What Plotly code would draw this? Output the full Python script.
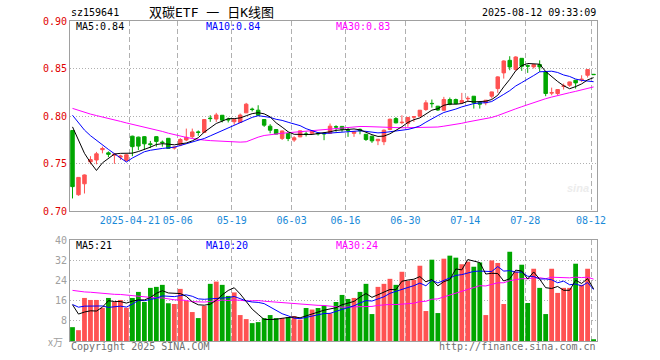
import plotly.graph_objects as go
import pandas as pd

# ---------------- data ----------------
holidays = ["2025-05-01", "2025-05-02", "2025-05-05", "2025-06-02"]
dates = [d.strftime("%Y-%m-%d") for d in pd.bdate_range("2025-04-07", "2025-08-12")
         if d.strftime("%Y-%m-%d") not in holidays]

open_ = [0.785, 0.7175, 0.729, 0.752, 0.754, 0.7648, 0.7615, 0.759, 0.757, 0.7535,
         0.779, 0.778, 0.7785, 0.771, 0.7785, 0.7728, 0.7768, 0.7665, 0.7697, 0.775,
         0.7785, 0.7835, 0.783, 0.798, 0.797, 0.801, 0.7968, 0.7942, 0.7935, 0.8035,
         0.8075, 0.8063, 0.7965, 0.7895, 0.786, 0.7767, 0.7818, 0.775, 0.7783, 0.7813,
         0.782, 0.7822, 0.782, 0.782, 0.789, 0.7893, 0.7856, 0.782, 0.7862, 0.781,
         0.779, 0.7742, 0.7732, 0.786, 0.7975, 0.7932, 0.7925, 0.799, 0.800, 0.807,
         0.8135, 0.8105, 0.8063, 0.8175, 0.8175, 0.8143, 0.8183, 0.821, 0.8143, 0.814,
         0.821, 0.829, 0.8455, 0.8587, 0.849, 0.8608, 0.853, 0.8518, 0.8542, 0.8465,
         0.8243, 0.8238, 0.8313, 0.8325, 0.8378, 0.8382, 0.843, 0.844]
high = [0.7855, 0.736, 0.7388, 0.758, 0.7625, 0.768, 0.763, 0.7605, 0.7595, 0.760,
        0.7795, 0.7785, 0.779, 0.774, 0.779, 0.7745, 0.777, 0.768, 0.777, 0.787,
        0.787, 0.785, 0.797, 0.801, 0.8035, 0.8012, 0.7985, 0.7968, 0.8028, 0.814,
        0.809, 0.8115, 0.797, 0.7916, 0.786, 0.7848, 0.782, 0.779, 0.785, 0.7838,
        0.7848, 0.7832, 0.7832, 0.7923, 0.7905, 0.7895, 0.7878, 0.7838, 0.787, 0.7812,
        0.7795, 0.776, 0.786, 0.7975, 0.799, 0.801, 0.7993, 0.800, 0.8065, 0.8168,
        0.8175, 0.8108, 0.8203, 0.8196, 0.8185, 0.8245, 0.821, 0.8212, 0.8145, 0.817,
        0.8258, 0.842, 0.8587, 0.863, 0.863, 0.861, 0.8545, 0.8545, 0.8587, 0.847,
        0.830, 0.8282, 0.8343, 0.8363, 0.838, 0.843, 0.8492, 0.8442]
low = [0.7136, 0.7164, 0.7188, 0.7495, 0.7495, 0.761, 0.757, 0.750, 0.754, 0.7525,
       0.758, 0.7643, 0.7645, 0.7665, 0.768, 0.768, 0.766, 0.765, 0.7685, 0.7738,
       0.7768, 0.7795, 0.7825, 0.7941, 0.794, 0.7935, 0.7934, 0.791, 0.793, 0.8033,
       0.805, 0.800, 0.7888, 0.782, 0.781, 0.775, 0.7738, 0.773, 0.778, 0.7787,
       0.7818, 0.7797, 0.7748, 0.7815, 0.7836, 0.7836, 0.7783, 0.7783, 0.781, 0.774,
       0.772, 0.7696, 0.7696, 0.7853, 0.7925, 0.7916, 0.7888, 0.794, 0.7998, 0.8056,
       0.809, 0.8056, 0.8056, 0.8115, 0.8126, 0.8133, 0.815, 0.808, 0.808, 0.8115,
       0.8185, 0.8245, 0.8395, 0.8483, 0.8476, 0.8476, 0.8455, 0.850, 0.8465, 0.821,
       0.822, 0.822, 0.828, 0.8308, 0.829, 0.836, 0.8406, 0.8437]
close = [0.726, 0.7357, 0.7383, 0.7545, 0.7605, 0.766, 0.760, 0.7602, 0.7582, 0.7595,
         0.768, 0.7686, 0.771, 0.7702, 0.7735, 0.7722, 0.7662, 0.7675, 0.7755, 0.7778,
         0.7835, 0.783, 0.7965, 0.7975, 0.8013, 0.7958, 0.7962, 0.7965, 0.8012, 0.8126,
         0.807, 0.801, 0.7906, 0.7853, 0.7812, 0.7845, 0.7766, 0.7773, 0.7846, 0.781,
         0.7845, 0.7816, 0.7815, 0.7895, 0.7886, 0.7862, 0.7852, 0.7836, 0.7847, 0.7755,
         0.7741, 0.7758, 0.7853, 0.7968, 0.793, 0.7936, 0.7986, 0.7995, 0.8063, 0.814,
         0.8132, 0.8065, 0.8175, 0.8126, 0.8133, 0.8165, 0.8187, 0.814, 0.8126, 0.8168,
         0.8255, 0.8413, 0.858, 0.8517, 0.8622, 0.8524, 0.8526, 0.8542, 0.8517, 0.8238,
         0.8247, 0.828, 0.8318, 0.836, 0.835, 0.8388, 0.849, 0.8437]
volume = [5.5, 4.3, 17.1, 16.3, 16.3, 13.2, 17.1, 15.5, 16.3, 13.2,
          17.1, 19.5, 15.5, 21.1, 21.5, 22.3, 15.0, 14.7, 20.7, 15.9,
          11.5, 9.1, 13.9, 22.7, 23.6, 22.3, 17.9, 19.3, 10.3, 8.7,
          7.1, 7.5, 9.1, 10.3, 9.1, 9.1, 9.5, 9.9, 8.5, 13.1,
          12.5, 13.1, 14.0, 11.0, 15.5, 18.3, 16.7, 17.1, 19.5, 22.7,
          10.7, 21.5, 22.7, 24.7, 22.3, 27.5, 23.9, 24.3, 29.9, 11.9,
          32.3, 11.1, 32.7, 33.9, 33.1, 30.5, 31.5, 29.5, 31.2, 10.3,
          32.0, 31.0, 14.7, 35.5, 27.5, 30.3, 15.1, 28.7, 21.1, 10.7,
          28.7, 19.1, 21.1, 21.1, 30.7, 22.3, 28.7, 0.7]

# sessions before the visible window (only feed the moving averages)
pre_close = [0.800, 0.803, 0.805, 0.807, 0.806, 0.808, 0.806, 0.807, 0.809, 0.809,
             0.812, 0.815, 0.817, 0.819, 0.820, 0.821, 0.819, 0.818, 0.817, 0.818,
             0.816, 0.814, 0.813, 0.812, 0.811, 0.808, 0.805, 0.803, 0.802]
pre_volume = [18, 22, 20, 24, 19, 21, 23, 18, 20, 21.4,
              26, 30, 28, 24, 22, 27, 25, 23, 21, 26,
              15, 13, 16, 14, 15, 22.8, 13.1, 13.8, 16.8]

tick_dates = ["2025-04-21", "2025-05-06", "2025-05-19", "2025-06-03", "2025-06-16",
              "2025-06-30", "2025-07-14", "2025-07-28", "2025-08-12"]
tick_text = ["2025-04-21", "05-06", "05-19", "06-03", "06-16", "06-30", "07-14", "07-28", "08-12"]
price_ticks = [0.70, 0.75, 0.80, 0.85, 0.90]
vol_ticks = [8, 16, 24, 32, 40]

price_legend = ["MA5:0.84", "MA10:0.84", "MA30:0.83"]
vol_legend = ["MA5:21", "MA10:20", "MA30:24"]
stock_code = "sz159641"
title_text = "双碳ETF 一 日K线图"
timestamp = "2025-08-12 09:33:09"

# ---------------- derived ----------------
n_pre = len(pre_close)
cs = pd.Series(pre_close + close)
vs = pd.Series(pre_volume + volume)
ma_price = {w: cs.rolling(w, min_periods=1).mean().tolist()[n_pre:] for w in (5, 10, 30)}
ma_vol = {w: vs.rolling(w, min_periods=1).mean().tolist()[n_pre:] for w in (5, 10, 30)}

idx = list(range(len(dates)))
RED = "#ff5252"
GREEN = "#00a600"
ma_colors = {5: "#000000", 10: "#0000ff", 30: "#ff00ff"}
vol_colors = [RED if c >= o else GREEN for o, c in zip(open_, close)]

# ---------------- figure ----------------
fig = go.Figure()
fig.add_trace(go.Candlestick(
    x=idx, open=open_, high=high, low=low, close=close,
    increasing=dict(line=dict(color=RED, width=1), fillcolor=RED),
    decreasing=dict(line=dict(color=GREEN, width=1), fillcolor=GREEN),
    whiskerwidth=0, hoverinfo="skip", xaxis="x", yaxis="y", showlegend=False))
for w in (30, 10, 5):
    fig.add_trace(go.Scatter(x=idx, y=ma_price[w], mode="lines",
                             line=dict(color=ma_colors[w], width=1),
                             hoverinfo="skip", xaxis="x", yaxis="y", showlegend=False))

fig.add_trace(go.Bar(x=idx, y=volume, marker=dict(color=vol_colors, line=dict(width=0)),
                     width=0.8, hoverinfo="skip", xaxis="x2", yaxis="y2", showlegend=False))
for w in (30, 10, 5):
    fig.add_trace(go.Scatter(x=idx, y=ma_vol[w], mode="lines",
                             line=dict(color=ma_colors[w], width=1),
                             hoverinfo="skip", xaxis="x2", yaxis="y2", showlegend=False))

L, R, T, B = 70, 63, 21, 19
W, H = 660, 360
PW, PH = W - L - R, H - T - B


def pos(px, py):
    return (px - L) / PW, (H - B - py) / PH


tickvals = [dates.index(d) - 0.42 for d in tick_dates]
xr = [-0.417, len(dates) - 1 + 0.57]
grid_x = dict(showgrid=True, gridcolor="#b0b0b0", griddash="5px,3px", gridwidth=1,
              zeroline=False, showline=True, mirror=True, linecolor="#a0a0a0", linewidth=1,
              tickvals=tickvals, ticks="", range=xr, rangeslider=dict(visible=False),
              fixedrange=True)
grid_y = dict(showgrid=True, gridcolor="#b0b0b0", griddash="1px,2px", gridwidth=1,
              zeroline=False, showline=True, mirror=True, linecolor="#a0a0a0", linewidth=1,
              ticks="", fixedrange=True)

mono = "DejaVu Sans Mono"
fig.update_layout(
    width=W, height=H, margin=dict(l=L, r=R, t=T, b=B),
    paper_bgcolor="white", plot_bgcolor="white", boxgap=0.17, bargap=0.2,
    font=dict(family=mono, size=10, color="#000"),
    xaxis=dict(**grid_x, anchor="y", domain=[0, 1], ticktext=tick_text,
               tickfont=dict(family=mono, size=10, color="#1a8ad8")),
    xaxis2=dict(**grid_x, anchor="y2", domain=[0, 1], matches="x", showticklabels=False),
    yaxis=dict(**grid_y, domain=[0.405, 1], range=[0.70, 0.90], tickvals=price_ticks,
               ticktext=[f"{v:.2f}" for v in price_ticks],
               tickfont=dict(family=mono, size=10, color="#e00000")),
    yaxis2=dict(**grid_y, domain=[0, 0.3147], range=[0, 40], tickvals=vol_ticks,
                ticktext=[str(v) for v in vol_ticks],
                tickfont=dict(family=mono, size=10, color="#a0a0a0")),
)

ann = []


def add_text(text, px, py, anchor="left", color="#000", size=10, family=mono):
    x, y = pos(px, py)
    ann.append(dict(text=text, x=x, y=y, xref="paper", yref="paper", xanchor=anchor,
                    yanchor="middle", showarrow=False,
                    font=dict(family=family, size=size, color=color)))


add_text(stock_code, 69, 12.5)
add_text(title_text, 211, 12.5, anchor="center", size=13,
         family="DejaVu Sans Mono, Noto Sans CJK SC")
add_text(timestamp, 598, 12.5, anchor="right")
leg_x = [74, 204, 334]
for t, x, w in zip(price_legend, leg_x, (5, 10, 30)):
    add_text(t, x, 26.5, color=ma_colors[w])
for t, x, w in zip(vol_legend, leg_x, (5, 10, 30)):
    add_text(t, x, 245.5, color=ma_colors[w])
add_text("x万", 65, 341, anchor="right", color="#a0a0a0", family="Noto Sans CJK SC")
add_text("Copyright 2025 SINA.COM", 69, 346, color="#707070")
add_text("http://finance.sina.com.cn", 598, 346, anchor="right", color="#707070")
add_text("<b><i>sina</i></b>", 578, 188, anchor="center", color="#ececec", size=11,
         family="Arial, Liberation Sans")
fig.update_layout(annotations=ann)

fig.write_html("out.html", config={"displayModeBar": False},
               post_script="document.body.style.margin='0';")
